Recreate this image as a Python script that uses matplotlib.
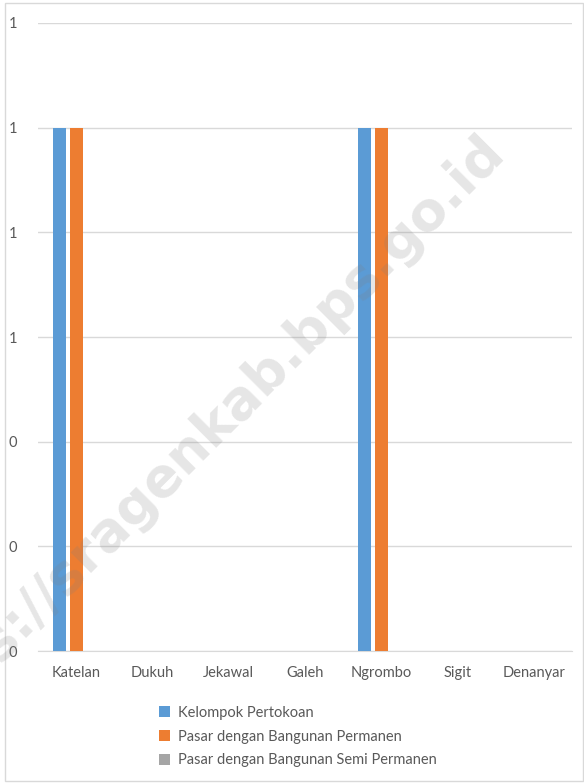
import numpy as np
import matplotlib.pyplot as plt
from matplotlib.ticker import FixedLocator, FixedFormatter

plt.rcParams["font.family"] = ["Lato", "DejaVu Sans"]

desa = ["Katelan", "Dukuh", "Jekawal", "Galeh", "Ngrombo", "Sigit", "Denanyar"]
kelompok_pertokoan = [1, 0, 0, 0, 1, 0, 0]
pasar_permanen = [1, 0, 0, 0, 1, 0, 0]
pasar_semi_permanen = [0, 0, 0, 0, 0, 0, 0]
y_ticks = [0, 0.2, 0.4, 0.6, 0.8, 1.0, 1.2]
y_labels = ["0", "0", "0", "1", "1", "1", "1"]

seri = [
    ("Kelompok Pertokoan", kelompok_pertokoan, "#5b9bd5"),
    ("Pasar dengan Bangunan Permanen", pasar_permanen, "#ed7d31"),
    ("Pasar dengan Bangunan Semi Permanen", pasar_semi_permanen, "#a5a5a5"),
]

fig = plt.figure(figsize=(5.84, 7.84), dpi=100)
ax = fig.add_axes([0.065, 0.1696, 0.914, 0.8011])

x = np.arange(len(desa))
lebar = 0.17
jarak = 0.223
for i, (nama, nilai, warna) in enumerate(seri):
    ax.bar(x + (i - 1) * jarak, nilai, width=lebar, color=warna, label=nama, zorder=3)

ax.set_xlim(-0.5, len(desa) - 0.5)
ax.set_ylim(0, 1.2)
ax.yaxis.set_major_locator(FixedLocator(y_ticks))
ax.yaxis.set_major_formatter(FixedFormatter(y_labels))
ax.set_xticks(x)
ax.set_xticklabels(desa)
ax.grid(axis="y", color="#d9d9d9", linewidth=1, zorder=0)
for s in ["top", "right", "left"]:
    ax.spines[s].set_visible(False)
ax.spines["bottom"].set_color("#d9d9d9")
ax.tick_params(axis="both", length=0, colors="#595959", labelsize=10.5)
ax.tick_params(axis="x", pad=11)
ax.tick_params(axis="y", pad=15)

ax.legend(loc="upper left", bbox_to_anchor=(0.203, -0.066), frameon=False,
          fontsize=10.5, labelcolor="#595959", handlelength=0.75, handleheight=0.75,
          handletextpad=0.5, labelspacing=0.68)

# kotak luar chart
fig.patches.append(plt.Rectangle((0.008, 0.004), 0.99, 0.992, transform=fig.transFigure,
                                 fill=False, edgecolor="#d9d9d9", linewidth=1))

# watermark
fig.text(0.337, 0.436, "https://sragenkab.bps.go.id", rotation=45, fontsize=39,
         family="DejaVu Sans", fontweight="bold", color="#808080", alpha=0.2,
         ha="center", va="center", zorder=10)

fig.savefig("out.png", dpi=100)
